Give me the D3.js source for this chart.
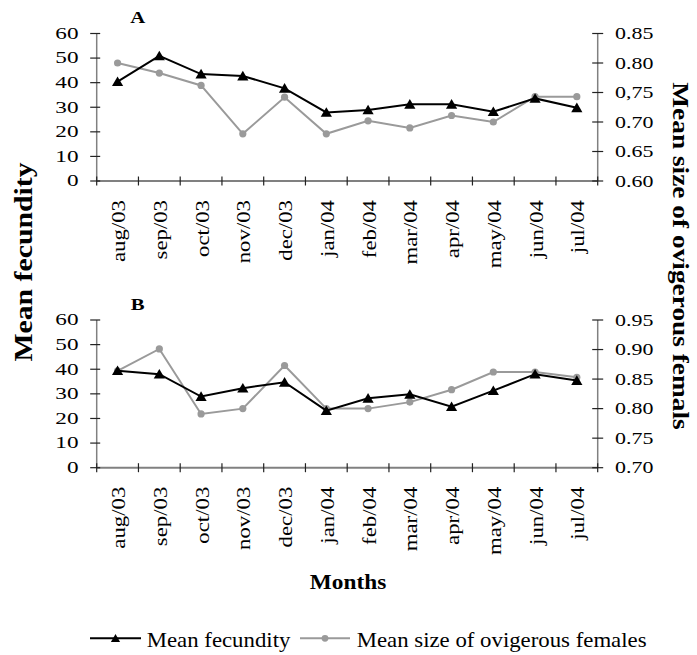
<!DOCTYPE html>
<html>
<head>
<meta charset="utf-8">
<script src="https://cdn.jsdelivr.net/npm/d3@7"></script>
<style>
  html, body { margin: 0; padding: 0; background: #fff; }
  svg { display: block; }
  text { font-family: "Liberation Serif", "Times New Roman", serif; fill: #000; }
</style>
</head>
<body>
<svg id="chart" width="697" height="655"></svg>
<script>
// ---- data ----
const months = ["aug/03","sep/03","oct/03","nov/03","dec/03","jan/04","feb/04","mar/04","apr/04","may/04","jun/04","jul/04"];
const fecundityA = [40.4, 50.9, 43.5, 42.7, 37.7, 27.9, 28.9, 31.2, 31.2, 28.2, 33.6, 29.8];
const sizeA      = [0.800, 0.783, 0.762, 0.680, 0.742, 0.680, 0.702, 0.690, 0.711, 0.700, 0.743, 0.743];
const fecundityB = [39.4, 38.0, 28.9, 32.3, 34.7, 23.2, 28.2, 29.8, 24.8, 31.3, 38.0, 35.4];
const sizeB      = [0.864, 0.901, 0.791, 0.800, 0.873, 0.800, 0.800, 0.811, 0.832, 0.862, 0.862, 0.853];
const fecTicks = [0, 10, 20, 30, 40, 50, 60];
const sizeTicksA = [0.60, 0.65, 0.70, 0.75, 0.80, 0.85];
const sizeTickLabelsA = ["0.60", "0.65", "0.70", "0,75", "0.80", "0.85"];
const sizeTicksB = [0.70, 0.75, 0.80, 0.85, 0.90, 0.95];
const sizeTickLabelsB = ["0.70", "0.75", "0.80", "0.85", "0.90", "0.95"];
const seriesNames = ["Mean fecundity", "Mean size of ovigerous females"];

const svg = d3.select("#chart");
const X0 = 96.7, X1 = 597.7;
const BLACK = "#000", GRAY = "#9a9a9a", AXIS = "#808080";

const x = d3.scaleBand().domain(months).range([X0, X1]).padding(0);

function stext(g, str, px, py, o) {
  const t = g.append("text")
    .attr("transform", `translate(${px},${py}) rotate(${o.rot || 0}) scale(${o.sx || 1},1)`)
    .attr("text-anchor", o.anchor || "start")
    .style("font-size", o.fs + "px")
    .style("font-weight", o.bold ? "bold" : "normal")
    .text(str);
  return t;
}

const triPath = "M0,-5.2L5.6,4.4L-5.6,4.4Z";

function panel(top, bottom, fec, size, sizeDomain, sizeTicks, sizeLabels, letter) {
  const g = svg.append("g");
  const yL = d3.scaleLinear().domain([0, 60]).range([bottom, top]);
  const yR = d3.scaleLinear().domain(sizeDomain).range([bottom, top]);

  // axis lines
  g.append("line").attr("x1", X0).attr("x2", X0).attr("y1", top).attr("y2", bottom)
    .attr("stroke", AXIS).attr("stroke-width", 1.5);
  g.append("line").attr("x1", X1).attr("x2", X1).attr("y1", top).attr("y2", bottom)
    .attr("stroke", AXIS).attr("stroke-width", 1.5);
  g.append("line").attr("x1", X0).attr("x2", X1).attr("y1", bottom).attr("y2", bottom)
    .attr("stroke", AXIS).attr("stroke-width", 2);

  // left ticks + labels
  fecTicks.forEach(v => {
    const yy = yL(v);
    g.append("line").attr("x1", X0 - 6.5).attr("x2", X0 + 3.5).attr("y1", yy).attr("y2", yy)
      .attr("stroke", "#222").attr("stroke-width", 1.2);
    stext(g, String(v), 78.5, yy + 5.4, { fs: 16, sx: 1.45, anchor: "end" });
  });
  // right ticks + labels
  sizeTicks.forEach((v, i) => {
    const yy = yR(v);
    g.append("line").attr("x1", X1 - 5.5).attr("x2", X1 + 5.5).attr("y1", yy).attr("y2", yy)
      .attr("stroke", "#222").attr("stroke-width", 1.2);
    stext(g, sizeLabels[i], 615, yy + 5.6, { fs: 16.5, sx: 1.33, anchor: "start" });
  });
  // bottom ticks at band boundaries
  const bounds = months.map(m => x(m)).concat([x(months[months.length - 1]) + x.bandwidth()]);
  bounds.forEach(bx => {
    g.append("line").attr("x1", bx).attr("x2", bx).attr("y1", bottom - 4.5).attr("y2", bottom + 4.5)
      .attr("stroke", "#222").attr("stroke-width", 1.2);
  });
  // month labels
  months.forEach(m => {
    const cx = x(m) + x.bandwidth() / 2;
    stext(g, m, cx + 7.5, bottom + 19, { fs: 19, sx: 1.2, rot: -90, anchor: "end" });
  });

  const cxOf = i => x(months[i]) + x.bandwidth() / 2;

  // size series (gray)
  const lineR = d3.line().x((d, i) => cxOf(i)).y(d => yR(d));
  g.append("path").attr("d", lineR(size)).attr("fill", "none")
    .attr("stroke", GRAY).attr("stroke-width", 2);
  g.selectAll(".c").data(size).enter().append("circle")
    .attr("cx", (d, i) => cxOf(i)).attr("cy", d => yR(d)).attr("r", 3.6)
    .attr("fill", GRAY);

  // fecundity series (black)
  const lineL = d3.line().x((d, i) => cxOf(i)).y(d => yL(d));
  g.append("path").attr("d", lineL(fec)).attr("fill", "none")
    .attr("stroke", BLACK).attr("stroke-width", 2);
  g.selectAll(".t").data(fec).enter().append("path")
    .attr("d", triPath)
    .attr("transform", (d, i) => `translate(${cxOf(i)},${yL(d)})`)
    .attr("fill", BLACK);

  stext(g, letter, 137.8, top - 10.5, { fs: 17.6, sx: 1.18, anchor: "middle", bold: true });
}

panel(33.5, 181, fecundityA, sizeA, [0.60, 0.85], sizeTicksA, sizeTickLabelsA, "A");
panel(320, 467.7, fecundityB, sizeB, [0.70, 0.95], sizeTicksB, sizeTickLabelsB, "B");

// axis titles
stext(svg, "Mean fecundity", 31.7, 262, { fs: 25, sx: 1.19, rot: -90, anchor: "middle", bold: true });
stext(svg, "Mean size of ovigerous femals", 673, 256, { fs: 23, sx: 1.19, rot: 90, anchor: "middle", bold: true });
stext(svg, "Months", 348, 588.5, { fs: 22, sx: 1.06, anchor: "middle", bold: true });

// legend
const lg = svg.append("g");
const ly = 638.3;
lg.append("line").attr("x1", 90).attr("x2", 141).attr("y1", ly).attr("y2", ly)
  .attr("stroke", BLACK).attr("stroke-width", 2);
lg.append("path").attr("d", "M0,-4.2L4.6,3.6L-4.6,3.6Z")
  .attr("transform", `translate(115.5,${ly})`).attr("fill", BLACK);
stext(lg, seriesNames[0], 146.7, 646.7, { fs: 20, sx: 1.14, anchor: "start" });
lg.append("line").attr("x1", 300).attr("x2", 350).attr("y1", ly).attr("y2", ly)
  .attr("stroke", GRAY).attr("stroke-width", 2);
lg.append("circle").attr("cx", 325).attr("cy", ly).attr("r", 3.4).attr("fill", GRAY);
stext(lg, seriesNames[1], 356.7, 646.7, { fs: 20, sx: 1.14, anchor: "start" });
</script>
</body>
</html>
